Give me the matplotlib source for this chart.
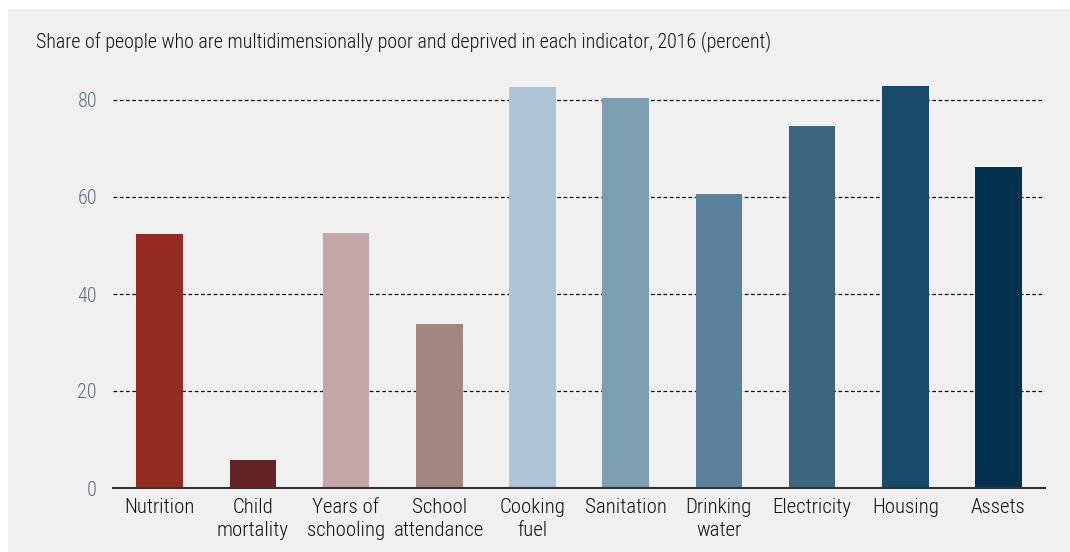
import matplotlib.pyplot as plt
from matplotlib.patches import Rectangle
import numpy as np

# data
indicators = ["Nutrition", "Child\nmortality", "Years of\nschooling", "School\nattendance",
              "Cooking\nfuel", "Sanitation", "Drinking\nwater", "Electricity", "Housing", "Assets"]
share = [52.4, 5.7, 52.6, 33.8, 82.7, 80.4, 60.6, 74.6, 82.9, 66.2]
bar_colors = ["#932b20", "#632327", "#c4a8a9", "#a48681", "#adc5d5",
              "#7d9db2", "#5b8099", "#3e657f", "#174b69", "#03324f"]
yticks = [0, 20, 40, 60, 80]

title = "Share of people who are multidimensionally poor and deprived in each indicator, 2016 (percent)"

plt.rcParams['font.family'] = ['Roboto Condensed', 'DejaVu Sans']
plt.rcParams['font.weight'] = 'light'

fig = plt.figure(figsize=(10.7, 5.52), dpi=100)
fig.patch.set_facecolor("white")
# grey panel behind the chart
fig.patches.append(Rectangle((8 / 1070, 0), 1, 1 - 9 / 552, transform=fig.transFigure,
                             facecolor="#f0f0f0", edgecolor="none", zorder=-1))

ax = fig.add_axes([113 / 1070, 64 / 552, (1045 - 113) / 1070, (488 - 51.5) / 552])
ax.set_facecolor("none")

x = np.arange(len(indicators))
ax.bar(x, share, width=0.5, color=bar_colors, zorder=3)

ax.set_xlim(-0.5, 9.5)
ax.set_ylim(0, 90)
ax.set_yticks(yticks)
ax.set_xticks(x)
ax.set_xticklabels(indicators, fontsize=15, color="#111111", linespacing=1.3)
ax.tick_params(axis="y", length=0, pad=11.5, labelsize=14.5, labelcolor="#5b6b80")
ax.tick_params(axis="x", length=0, pad=7)

for y in yticks[1:]:
    ax.axhline(y, color="#111111", lw=0.9, ls=(0, (3, 2)), zorder=1)

for s in ["top", "right", "left"]:
    ax.spines[s].set_visible(False)
ax.spines["bottom"].set_color("#333333")
ax.spines["bottom"].set_linewidth(1.5)
ax.spines["bottom"].set_zorder(4)

fig.text(36 / 1070, 1 - 42 / 552, title, fontsize=14.4, color="#111111", va="center", ha="left")

fig.savefig("out.png", dpi=100, facecolor=fig.get_facecolor())
